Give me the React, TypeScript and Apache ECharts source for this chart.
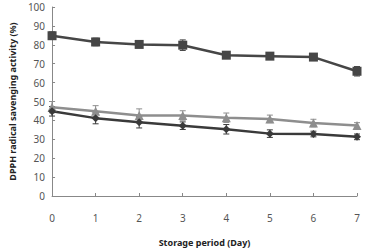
import React, { useEffect, useRef } from "react";
import * as echarts from "echarts";

const days = [0, 1, 2, 3, 4, 5, 6, 7];
const seriesA = [84.8, 81.5, 80.2, 79.8, 74.5, 74.0, 73.5, 66.0];
const errA = [2, 2, 1, 2.8, 1, 1, 1, 2.5];
const seriesB = [47.0, 44.8, 42.6, 42.6, 41.4, 40.8, 38.6, 37.3];
const errB = [3, 3, 3.5, 2.5, 2.5, 2, 2, 1.5];
const seriesC = [44.8, 41.2, 39.0, 37.2, 35.3, 33.0, 32.8, 31.3];
const errC = [2.5, 3, 3, 2, 2.5, 2, 1.5, 1.5];

const colA = "#464646";
const colB = "#8e8e8e";
const colC = "#3a3a3a";

function errSeries(vals: number[], errs: number[], color: string) {
  return {
    type: "custom",
    z: 1,
    data: days.map((d, i) => [d, vals[i] - errs[i], vals[i] + errs[i]]),
    renderItem: (params: any, api: any) => {
      const lo = api.coord([api.value(0), api.value(1)]);
      const hi = api.coord([api.value(0), api.value(2)]);
      const w = 3;
      const style = { stroke: color, lineWidth: 1 };
      return {
        type: "group",
        children: [
          { type: "line", shape: { x1: lo[0], y1: lo[1], x2: hi[0], y2: hi[1] }, style },
          { type: "line", shape: { x1: lo[0] - w, y1: lo[1], x2: lo[0] + w, y2: lo[1] }, style },
          { type: "line", shape: { x1: hi[0] - w, y1: hi[1], x2: hi[0] + w, y2: hi[1] }, style },
        ],
      };
    },
  };
}

function lineSeries(vals: number[], color: string, symbol: string, size: number) {
  return {
    type: "line",
    z: 2,
    data: days.map((d, i) => [d, vals[i]]),
    symbol,
    symbolSize: size,
    showAllSymbol: true,
    lineStyle: { color, width: 2.5 },
    itemStyle: { color, borderWidth: 0 },
  };
}

export default function App() {
  const ref = useRef<HTMLDivElement>(null);
  useEffect(() => {
    const chart = echarts.init(ref.current!, undefined, { renderer: "svg" });
    const axisLabel = { color: "#555", fontSize: 10, fontFamily: "Noto Sans" };
    chart.setOption({
      animation: false,
      grid: { left: 45, top: 7, right: 9, bottom: 46 },
      xAxis: {
        type: "value",
        min: 0,
        max: 7,
        interval: 1,
        splitLine: { show: false },
        axisLine: { lineStyle: { color: "#888" } },
        axisTick: { inside: true, length: 3, lineStyle: { color: "#888" } },
        axisLabel: { ...axisLabel, margin: 17 },
        name: "Storage period (Day)",
        nameLocation: "middle",
        nameGap: 42,
        nameTextStyle: { fontSize: 9, fontWeight: "bold", color: "#222", fontFamily: "Noto Sans" },
      },
      yAxis: {
        type: "value",
        min: 0,
        max: 100,
        interval: 10,
        splitLine: { show: false },
        axisLine: { show: true, lineStyle: { color: "#888" } },
        axisTick: { show: true, inside: true, length: 3, lineStyle: { color: "#888" } },
        axisLabel: { ...axisLabel, margin: 7 },
        name: "DPPH radical savenging activity (%)",
        nameLocation: "middle",
        nameGap: 34,
        nameTextStyle: { fontSize: 9, fontWeight: "bold", color: "#222", fontFamily: "Noto Sans" },
      },
      series: [
        errSeries(seriesA, errA, colA),
        errSeries(seriesB, errB, colB),
        errSeries(seriesC, errC, colC),
        lineSeries(seriesB, colB, "triangle", 9),
        lineSeries(seriesC, colC, "diamond", 8),
        lineSeries(seriesA, colA, "rect", 9),
      ],
    });
    return () => chart.dispose();
  }, []);
  return <div ref={ref} style={{ width: 366, height: 252, position: "absolute", left: 0, top: 0 }} />;
}
